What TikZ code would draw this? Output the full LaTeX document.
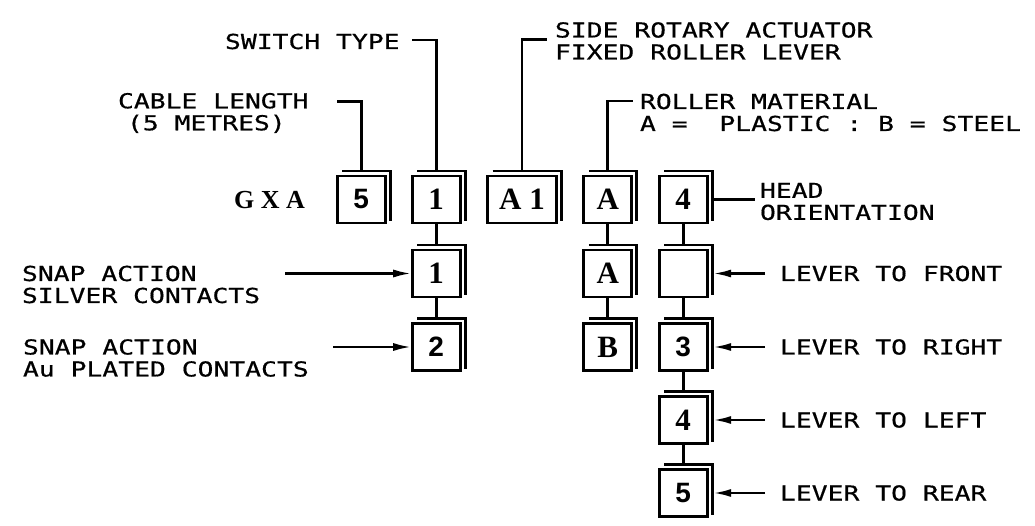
\documentclass[tikz,border=0pt]{standalone}
\usepackage{fontspec}
\usetikzlibrary{arrows.meta}
\newfontfamily\plotfont[FakeStretch=1.28,FakeBold=0.6]{DejaVu Sans Mono}
\newfontfamily\boxserif{Liberation Serif}
\newfontfamily\boxsans{Liberation Sans}
\begin{document}
\begin{tikzpicture}[x=1pt,y=-1pt,
  lbl/.style={font=\plotfont\fontsize{20.6pt}{22pt}\selectfont, inner sep=0pt, outer sep=0pt, align=left, anchor=west},
  keybox/.style={draw, fill=white, line width=2.8pt, minimum width=48pt, minimum height=47pt, inner sep=0pt, outer sep=0pt, font=\boxserif\bfseries\fontsize{31pt}{31pt}\selectfont},
  widebox/.style={keybox, minimum width=69pt},
  sansdigit/.style={font=\boxsans\bfseries\fontsize{28pt}{28pt}\selectfont},
  wire/.style={line width=2.8pt},
  arr/.style={wire, -{Latex[length=19pt,width=8pt]}},
  shadowline/.style={line width=2.8pt}
]
\useasboundingbox (0,0) rectangle (1035,526);

% main row
\node[font=\boxserif\bfseries\fontsize{26pt}{26pt}\selectfont, inner sep=0pt] (gxa) at (269.5,200) {G X A};
\node[keybox, sansdigit] (b5) at (361.2,199.5) {5};
\node[keybox] (b1) at (436.2,199.5) {1};
\node[widebox] (bA1) at (522,199.5) {A 1};
\node[keybox] (bA) at (607.8,199.5) {A};
\node[keybox] (b4) at (683.2,199.5) {4};
% row 2
\node[keybox] (r2a) at (436.2,273.5) {1};
\node[keybox] (r2b) at (607.8,273.5) {A};
\node[keybox] (r2c) at (683.2,273.5) {};
% row 3
\node[keybox, sansdigit] (r3a) at (436.2,347) {2};
\node[keybox] (r3b) at (607.8,347) {B};
\node[keybox, sansdigit] (r3c) at (683.2,347) {3};
% row 4, 5
\node[keybox] (r4c) at (683.2,420) {4};
\node[keybox, sansdigit] (r5c) at (683.2,493) {5};

% shadows
\foreach \n in {b5,b1,bA1,bA,b4,r2a,r2b,r2c,r3a,r3b,r3c,r4c,r5c}{
  \draw[shadowline] ([shift={(5pt,5pt)}]\n.north west) -- ([shift={(5pt,5pt)}]\n.north east) -- ([shift={(5pt,2pt)}]\n.south east);
}

% vertical links
\draw[wire] (b1.south) -- ([yshift=5pt]r2a.north);
\draw[wire] (r2a.south) -- ([yshift=5pt]r3a.north);
\draw[wire] (bA.south) -- ([yshift=5pt]r2b.north);
\draw[wire] (r2b.south) -- ([yshift=5pt]r3b.north);
\draw[wire] (b4.south) -- ([yshift=5pt]r2c.north);
\draw[wire] (r2c.south) -- ([yshift=5pt]r3c.north);
\draw[wire] (r3c.south) -- ([yshift=5pt]r4c.north);
\draw[wire] (r4c.south) -- ([yshift=5pt]r5c.north);

% top labels
\node[lbl] (lcable) at (118,113) {CABLE LENGTH\\\hspace*{9pt}(5 METRES)};
\coordinate (cablend) at (337,101.7);
\draw[wire] (cablend) -| ([yshift=5pt]b5.north);

\node[lbl] (lswitch) at (225,41.5) {SWITCH TYPE};
\coordinate (switchend) at (412,40);
\draw[wire] (switchend) -| ([yshift=5pt]b1.north);

\node[lbl] (lside) at (555,41) {SIDE ROTARY ACTUATOR\\FIXED ROLLER LEVER};
\coordinate (sideend) at (547,39.3);
\draw[wire] ([yshift=5pt]bA1.north) |- (sideend);

\node[lbl] (lroller) at (640,112.5) {ROLLER MATERIAL\\A =\ \ PLASTIC : B = STEEL};
\coordinate (rollerend) at (633,101);
\draw[wire] ([yshift=5pt]bA.north) |- (rollerend);

\node[lbl] (lhead) at (760,201.5) {HEAD\\ORIENTATION};
\coordinate (headend) at (755,199.5);
\draw[wire] ([xshift=5pt]b4.east) -- (headend);

% left labels and arrows
\node[lbl] (lsilver) at (22,284.5) {SNAP ACTION\\SILVER CONTACTS};
\coordinate (silverstart) at (285,273.5);
\draw[arr] (silverstart) -- (r2a.west);

\node[lbl] (lgold) at (23,358) {SNAP ACTION\\Au PLATED CONTACTS};
\coordinate (goldstart) at (333,347);
\draw[arr] (goldstart) -- (r3a.west);

% right labels and arrows
\node[lbl] (lfront) at (780,273.5) {LEVER TO FRONT};
\coordinate (frontstart) at (765,273.5);
\draw[arr] (frontstart) -- ([xshift=5pt]r2c.east);

\node[lbl] (lright) at (780,347) {LEVER TO RIGHT};
\coordinate (rightstart) at (765,347);
\draw[arr] (rightstart) -- ([xshift=5pt]r3c.east);

\node[lbl] (lleft) at (780,420) {LEVER TO LEFT};
\coordinate (leftstart) at (765,420);
\draw[arr] (leftstart) -- ([xshift=5pt]r4c.east);

\node[lbl] (lrear) at (780,493) {LEVER TO REAR};
\coordinate (rearstart) at (765,493);
\draw[arr] (rearstart) -- ([xshift=5pt]r5c.east);
\end{tikzpicture}
\end{document}
